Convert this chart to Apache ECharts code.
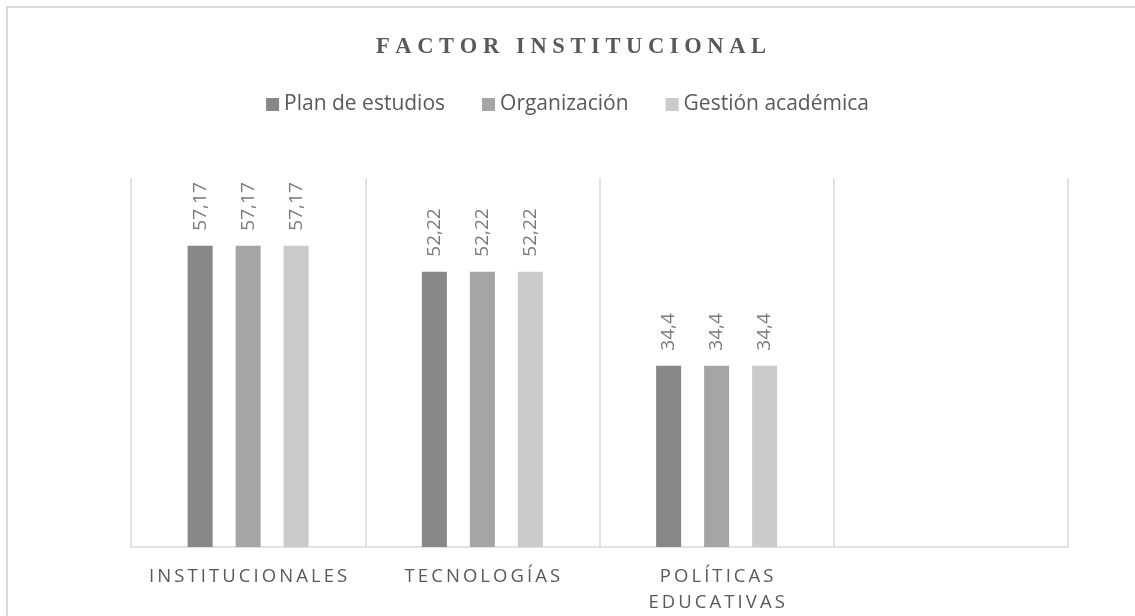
<!DOCTYPE html>
<html>
<head>
<meta charset="utf-8">
<script src="https://cdn.jsdelivr.net/npm/echarts@6/dist/echarts.min.js"></script>
<style>
    html, body { margin: 0; padding: 0; background: #fff; }
    #chart { width: 1135px; height: 616px; }
</style>
</head>
<body>
<div id="chart"></div>
<script>
const categories = ['INSTITUCIONALES', 'TECNOLOGÍAS', 'POLÍTICAS\nEDUCATIVAS', ''];
const planEstudios = [57.17, 52.22, 34.4, null];
const organizacion = [57.17, 52.22, 34.4, null];
const gestionAcademica = [57.17, 52.22, 34.4, null];
const seriesNames = ['Plan de estudios', 'Organización', 'Gestión académica'];
const colors = ['#878787', '#a5a5a5', '#cbcbcb'];

// spread letters apart (Excel-like character spacing)
const spread = (txt, sep) => txt.split('\n').map(l => l.split('').join(sep)).join('\n');
const comma = (v) => String(v).replace('.', ',');

const chart = echarts.init(document.getElementById('chart'));

const mkSeries = (name, data, i) => ({
    name: name,
    type: 'bar',
    data: data,
    barWidth: 25,
    barGap: '92%',
    itemStyle: { color: colors[i] },
    label: {
        show: true,
        position: 'top',
        rotate: 90,
        align: 'left',
        verticalAlign: 'middle',
        distance: 15,
        color: '#7a7a7a',
        fontFamily: 'Open Sans',
        fontSize: 19,
        formatter: (p) => comma(p.value)
    }
});

chart.setOption({
    backgroundColor: '#fff',
    animation: false,
    graphic: [{
        type: 'rect',
        shape: { x: 7, y: 7, width: 1300, height: 800 },
        style: { fill: 'none', stroke: '#d9d9d9', lineWidth: 2 },
        silent: true
    }],
    title: {
        text: spread('FACTOR INSTITUCIONAL', '\u2005'),
        left: 371,
        top: 31,
        textStyle: {
            fontFamily: 'Liberation Serif',
            fontWeight: 'bold',
            fontSize: 22.5,
            color: '#595959'
        }
    },
    legend: {
        top: 89,
        left: 'center',
        itemWidth: 13,
        itemHeight: 13,
        itemGap: 37,
        icon: 'rect',
        textStyle: { fontFamily: 'Open Sans', fontSize: 21, color: '#595959' },
        data: seriesNames
    },
    grid: { left: 131, right: 67, top: 178, bottom: 68 },
    xAxis: {
        type: 'category',
        data: categories,
        axisTick: { show: false },
        axisLine: { lineStyle: { color: '#d9d9d9', width: 1.5 } },
        splitLine: { show: true, lineStyle: { color: '#d9d9d9', width: 1.5 } },
        axisLabel: {
            interval: 0,
            margin: 17,
            color: '#595959',
            fontFamily: 'Open Sans',
            fontSize: 18.5,
            lineHeight: 26,
            formatter: (v) => spread(v, '\u2009')
        }
    },
    yAxis: {
        type: 'value',
        min: 0,
        max: 70,
        show: false,
        splitLine: { show: false }
    },
    series: [
        mkSeries(seriesNames[0], planEstudios, 0),
        mkSeries(seriesNames[1], organizacion, 1),
        mkSeries(seriesNames[2], gestionAcademica, 2)
    ]
});
</script>
</body>
</html>
